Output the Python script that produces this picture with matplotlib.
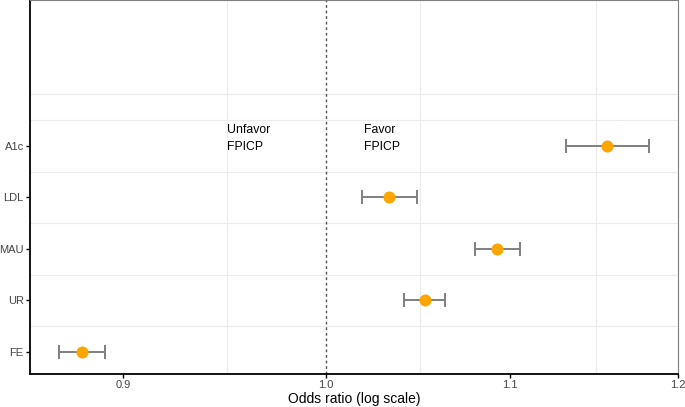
import matplotlib.pyplot as plt
from matplotlib.ticker import FixedLocator, NullFormatter

plt.rcParams['font.family'] = ['Liberation Sans', 'DejaVu Sans']

# forest plot data (odds ratios with 95% CI)
labels = ["FE", "UR", "MAU", "LDL", "A1c"]
odds = [0.881, 1.0526, 1.0926, 1.0333, 1.1567]
ci_low = [0.8705, 1.0411, 1.0803, 1.0188, 1.1322]
ci_high = [0.8915, 1.0636, 1.1054, 1.0483, 1.1824]
x_ticks = [0.9, 1.0, 1.1, 1.2]
x_minor = [0.95, 1.05, 1.15]


def graph_plot():
    fig = plt.figure(figsize=(6.85, 4.07), dpi=100)
    ax = fig.add_axes([30 / 685, 33 / 407, 648 / 685, 374 / 407])
    ax.set_xscale('log')
    ax.set_xlim(0.8577, 1.2)
    ax.set_ylim(0.573, 7.83)

    # grid (only the minor lines are shown)
    for xv in x_minor:
        ax.axvline(xv, color='#ebebeb', lw=0.8, zorder=0)
    for yv in [1.5, 2.5, 3.5, 4.5, 5.5, 6.0]:
        ax.axhline(yv, color='#ebebeb', lw=0.8, zorder=0)

    ax.axvline(1.0, color='#555555', lw=1.0, ls=(0, (2, 2)), zorder=1)

    pos = list(range(1, len(labels) + 1))
    err = [[o - l for o, l in zip(odds, ci_low)], [h - o for o, h in zip(odds, ci_high)]]
    ax.errorbar(odds, pos, xerr=err, fmt='none', ecolor='#7f7f7f', elinewidth=1.4,
                capsize=5, capthick=1.4, zorder=2)
    ax.scatter(odds, pos, s=75, color='#FFA500', zorder=3, linewidths=0)

    ax.text(0.95, 5.14, "Unfavor\nFPICP", ha='left', va='center', fontsize=8.8,
            linespacing=1.6)
    ax.text(1.02, 5.14, "Favor\nFPICP", ha='left', va='center', fontsize=8.8,
            linespacing=1.6)

    ax.set_yticks(pos)
    ax.set_yticklabels(labels)
    ax.xaxis.set_major_locator(FixedLocator(x_ticks))
    ax.xaxis.set_minor_locator(FixedLocator([]))
    ax.xaxis.set_minor_formatter(NullFormatter())
    ax.set_xticklabels(["0.9", "1.0", "1.1", "1.2"])
    ax.tick_params(axis='both', length=3, width=1.0, color='black',
                   labelsize=8, labelcolor='#444444', pad=1.5)
    ax.set_xlabel("Odds ratio (log scale)", fontsize=10, labelpad=1)

    for s in ['left', 'bottom']:
        ax.spines[s].set_color('black')
        ax.spines[s].set_linewidth(1.3)
    for s in ['top', 'right']:
        ax.spines[s].set_color('#7f7f7f')
        ax.spines[s].set_linewidth(0.8)

    fig.savefig('out.png', dpi=100)


def main():
    graph_plot()


if __name__ == "__main__":
    main()
